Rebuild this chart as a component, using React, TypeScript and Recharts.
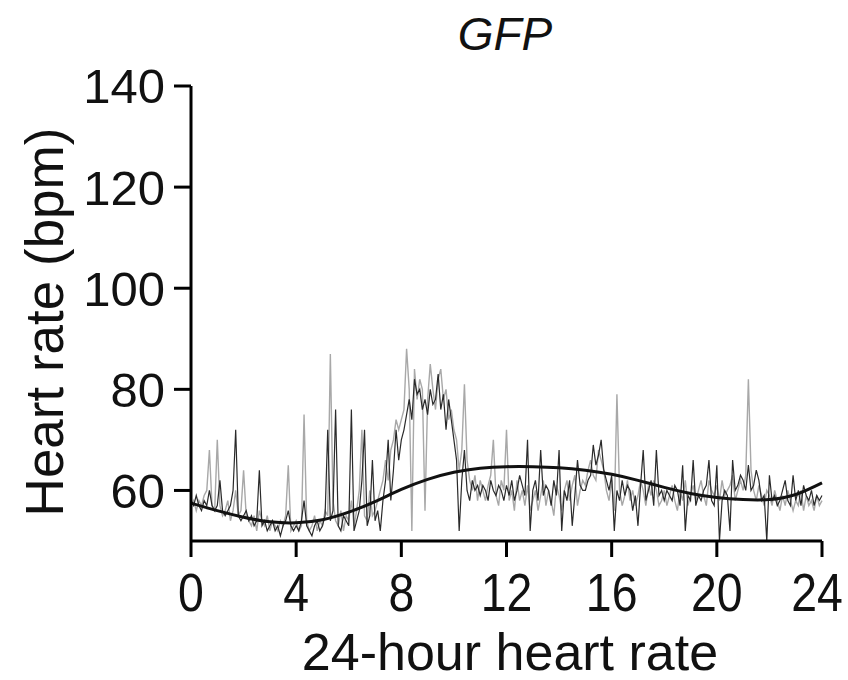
import React from 'react';
import { LineChart, Line, XAxis, YAxis, Label } from 'recharts';

// dark (black) heart-rate trace, one value every 0.1 h from 0 to 24 h
const darkTrace = [
  58, 57, 59, 57, 56, 58, 57, 60, 57, 56,
  57, 62, 56, 55, 56, 57, 60, 72, 55, 54,
  55, 56, 54, 55, 53, 54, 64, 53, 54, 52,
  53, 54, 52, 53, 51, 53, 54, 56, 53, 52,
  53, 52, 54, 58, 53, 52, 51, 53, 54, 52,
  53, 55, 72, 54, 56, 76, 53, 52, 55, 54,
  53, 76, 52, 54, 56, 62, 72, 53, 55, 66,
  54, 56, 52, 58, 62, 70, 58, 64, 72, 66,
  70, 72, 75, 78, 74, 82, 79, 80, 76, 78,
  75, 80, 77, 78, 83, 76, 79, 72, 78, 74,
  70, 66, 52, 62, 68, 60, 58, 62, 60, 61,
  59, 61, 60, 58, 62, 60, 59, 61, 60, 58,
  61, 59, 62, 58, 60, 63, 61, 59, 70, 52,
  60, 62, 58, 68, 59, 61, 60, 57, 62, 59,
  68, 52, 60, 58, 62, 53, 59, 66, 61, 60,
  60, 62, 63, 69, 65, 67, 70, 64, 62, 60,
  63, 52, 60, 58, 62, 59, 61, 60, 56, 59,
  53, 61, 68, 58, 60, 62, 57, 68, 59, 60,
  58, 60, 59, 58, 61, 60, 57, 65, 52, 59,
  58, 66, 57, 59, 58, 60, 61, 66, 58, 57,
  65, 50, 58, 60, 59, 52, 66, 60, 61, 63,
  62, 60, 65, 60, 61, 64, 62, 58, 59, 50,
  63, 58, 59, 57, 58, 60, 62, 58, 57, 63,
  58, 60, 57, 61, 59, 58, 60, 57, 59, 58,
  59,
];

// light grey heart-rate trace, same time grid
const grayTrace = [
  57, 58, 56, 58, 57, 59, 60, 68, 57, 56,
  70, 57, 55, 56, 58, 54, 56, 60, 55, 56,
  64, 55, 54, 53, 55, 52, 56, 54, 53, 55,
  52, 54, 53, 52, 54, 53, 55, 65, 52, 53,
  54, 52, 53, 75, 54, 52, 53, 55, 52, 54,
  53, 56, 55, 87, 58, 54, 53, 56, 52, 55,
  54, 58, 53, 56, 60, 72, 55, 54, 60, 55,
  56, 58, 60, 62, 66, 62, 68, 70, 74, 72,
  74, 76, 88, 80, 52, 84, 78, 82, 80, 56,
  78, 85, 80, 76, 82, 84, 78, 80, 74, 76,
  72, 70, 64, 68, 81, 66, 62, 60, 63, 58,
  62, 60, 58, 61, 63, 70, 59, 57, 62, 60,
  72, 58, 60, 56, 62, 58, 60, 57, 61, 56,
  58, 60, 56, 59, 62, 57, 60, 58, 55, 61,
  59, 56, 60, 62, 58, 61, 63, 57, 60, 62,
  61, 64, 66, 63, 62, 68, 66, 64, 60, 58,
  62, 56, 79, 60, 57, 59, 62, 58, 60, 57,
  59, 62, 60, 57, 61, 59, 62, 60, 57, 58,
  60, 57, 59, 61, 58, 56, 60, 58, 62, 57,
  59, 61, 58, 60, 62, 59, 57, 62, 60, 59,
  61, 58, 62, 59, 60, 61, 63, 58, 60, 62,
  60, 63, 82, 64, 60, 58, 61, 59, 57, 60,
  59, 57, 60, 58, 56, 59, 57, 60, 58, 56,
  58, 57, 60, 56, 59, 57, 58, 56, 59, 57,
  58,
];

// smooth fitted rhythm, one value per hour 0..24
const fitCurve = [
  57.5, 56, 54.7, 53.8, 53.6, 54.2, 55.7, 57.8, 60.2, 62.2, 63.6, 64.4, 64.7,
  64.7, 64.5, 64.0, 63.2, 62.0, 60.6, 59.4, 58.6, 58.2, 58.2, 59.2, 61.5,
];

const xTicks = [0, 4, 8, 12, 16, 20, 24];
const yTicks = [60, 80, 100, 120, 140];

const rows = darkTrace.map((d, i) => ({
  hour: i / 10,
  dark: d,
  gray: grayTrace[i],
  fit: i % 10 === 0 ? fitCurve[i / 10] : null,
}));

const FONT = '"Liberation Sans", Arial, sans-serif';

const XTick = (props: any) => {
  const { x, y, payload } = props;
  const last = payload.value === 24;
  return (
    <g transform={`translate(${x + (last ? -5 : 0)},${y})`}>
      <text
        transform="scale(0.86,1)"
        textAnchor="middle"
        dy="0.71em"
        fontSize={54}
        fill="#111"
        fontFamily={FONT}
      >
        {payload.value}
      </text>
    </g>
  );
};

export default function App() {
  return (
    <div style={{ position: 'absolute', left: 0, top: 0, width: 848, height: 680, background: '#fff' }}>
      <div
        style={{
          position: 'absolute',
          left: 0,
          width: 1010,
          top: 8,
          textAlign: 'center',
          fontFamily: FONT,
          fontStyle: 'italic',
          fontSize: 46,
          lineHeight: '52px',
          color: '#111',
        }}
      >
        GFP
      </div>
      <LineChart
        width={848}
        height={680}
        data={rows}
        margin={{ top: 86, right: 26, left: 81, bottom: 79 }}
      >
        <XAxis
          dataKey="hour"
          type="number"
          domain={[0, 24]}
          ticks={xTicks}
          interval={0}
          height={60}
          tickSize={16}
          tickMargin={16}
          axisLine={{ stroke: '#000', strokeWidth: 3 }}
          tickLine={{ stroke: '#000', strokeWidth: 3 }}
          tick={<XTick />}
        >
          <Label
            content={() => (
              <text x={510} y={670} textAnchor="middle" fontSize={52} fill="#111" fontFamily={FONT}>
                24-hour heart rate
              </text>
            )}
          />
        </XAxis>
        <YAxis
          type="number"
          domain={[50, 140]}
          ticks={yTicks}
          interval={0}
          allowDataOverflow
          width={110}
          tickSize={17}
          tickMargin={9}
          axisLine={{ stroke: '#000', strokeWidth: 3 }}
          tickLine={{ stroke: '#000', strokeWidth: 3 }}
          tick={{ fontSize: 49, fill: '#111', fontFamily: FONT }}
        >
          <Label
            content={() => (
              <text
                x={63}
                y={322}
                transform="rotate(-90, 63, 322)"
                textAnchor="middle"
                fontSize={53}
                fill="#111"
                fontFamily={FONT}
              >
                Heart rate (bpm)
              </text>
            )}
          />
        </YAxis>
        <Line
          dataKey="gray"
          stroke="#a8a8a8"
          strokeWidth={1.4}
          dot={false}
          activeDot={false}
          isAnimationActive={false}
          type="linear"
        />
        <Line
          dataKey="dark"
          stroke="#2a2a2a"
          strokeWidth={1.2}
          dot={false}
          activeDot={false}
          isAnimationActive={false}
          type="linear"
        />
        <Line
          dataKey="fit"
          stroke="#111"
          strokeWidth={3}
          dot={false}
          activeDot={false}
          connectNulls
          isAnimationActive={false}
          type="natural"
        />
      </LineChart>
    </div>
  );
}
